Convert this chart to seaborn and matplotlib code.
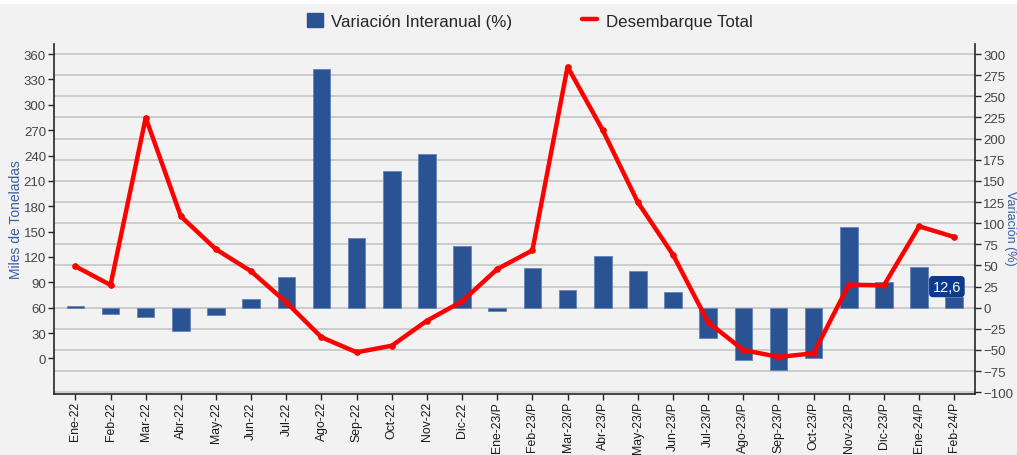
import numpy as np
import pandas as pd
import matplotlib
matplotlib.use("Agg")
import matplotlib.pyplot as plt
import seaborn as sns
from matplotlib.patches import Patch, Rectangle
from matplotlib.lines import Line2D

# --- data ---
meses = [
    "Ene-22", "Feb-22", "Mar-22", "Abr-22", "May-22", "Jun-22", "Jul-22",
    "Ago-22", "Sep-22", "Oct-22", "Nov-22", "Dic-22",
    "Ene-23/P", "Feb-23/P", "Mar-23/P", "Abr-23/P", "May-23/P", "Jun-23/P",
    "Jul-23/P", "Ago-23/P", "Sep-23/P", "Oct-23/P", "Nov-23/P", "Dic-23/P",
    "Ene-24/P", "Feb-24/P",
]
# Variación interanual (%), eje derecho
variacion = [2.0, -7.9, -10.6, -27.2, -8.6, 9.9, 35.9, 282.6, 82.8, 161.3,
             181.4, 72.6, -3.5, 46.6, 20.9, 60.8, 43.0, 18.6, -35.5, -62.2,
             -73.7, -59.1, 95.0, 30.4, 48.1, 12.6]
# Desembarque total (miles de toneladas), eje izquierdo
desembarque = [108.9, 86.8, 284.7, 168.0, 129.0, 103.0, 66.3, 25.0, 7.2, 15.0,
               44.6, 67.5, 105.7, 127.8, 345.0, 270.0, 184.6, 122.6, 42.7, 9.9,
               1.7, 6.0, 87.2, 86.4, 156.2, 143.6]

izq_ticks = list(range(0, 361, 30))
der_ticks = list(range(-100, 301, 25))

BG = "#F2F2F2"
AZUL = "#2A5394"
ROJO = "#FF0000"
AZUL_TXT = "#3A5BA0"

sns.set_theme(style="white", rc={"axes.facecolor": BG, "figure.facecolor": BG})
plt.rcParams["font.family"] = ["Liberation Sans", "DejaVu Sans"]

df = pd.DataFrame({"mes": meses, "variacion": variacion, "desembarque": desembarque})
df["pos"] = np.arange(len(df))

fig = plt.figure(figsize=(10.17, 4.56), dpi=100, facecolor=BG)
# thin white strip on top (cropped page above the chart)
fig.patches.append(Rectangle((0, 1 - 5 / 456), 1, 5 / 456, transform=fig.transFigure,
                             facecolor="white", edgecolor="none"))

ax = fig.add_axes([0.0534, 0.1338, 0.9053, 0.7675])
ax2 = ax.twinx()

# bars -> right axis
sns.barplot(data=df, x="mes", y="variacion", ax=ax2, color=AZUL, width=0.5,
            saturation=1, edgecolor="#6583b8", linewidth=0.6)
# line -> left axis
sns.lineplot(data=df, x="pos", y="desembarque", ax=ax, color=ROJO, lw=3.2,
             marker="o", markersize=4, markeredgecolor=ROJO,
             solid_joinstyle="round", solid_capstyle="round")

# line on top of the bars
ax.set_zorder(ax2.get_zorder() + 1)
ax.patch.set_visible(False)
ax2.patch.set_visible(True)
ax2.patch.set_facecolor(BG)

ax.set_xlim(-0.6, len(df) - 0.41)
ax.set_ylim(-42.1, 371.9)
ax2.set_ylim(-102.1, 311.9)

ax.set_yticks(izq_ticks)
ax2.set_yticks(der_ticks)
ax.set_xticks(df["pos"])
ax.set_xticklabels(meses, rotation=90)

ax2.yaxis.grid(True, color="#C8C8C8", lw=1.3)
ax2.set_axisbelow(True)
ax.grid(False)

for a in (ax, ax2):
    a.spines["top"].set_visible(False)
    for s in a.spines.values():
        s.set_color("#262626")
        s.set_linewidth(1.2)
ax.spines["right"].set_visible(False)
ax2.spines["left"].set_visible(False)
ax2.spines["bottom"].set_visible(False)

ax.tick_params(axis="y", left=True, length=4, width=1, color="#262626",
               labelsize=9.5, labelcolor="#444444", pad=2)
ax2.tick_params(axis="y", right=True, length=4, width=1, color="#262626",
                labelsize=9.5, labelcolor="#444444", pad=2)
ax.tick_params(axis="x", bottom=True, length=4, width=1, color="#262626",
               labelsize=8.8, labelcolor="#1a1a1a", pad=1.2)

ax.set_xlabel("")
ax.set_ylabel("Miles de Toneladas", color=AZUL_TXT, fontsize=10, labelpad=0.5)
ax2.set_xlabel("")
ax2.set_ylabel("")
# right axis title, squeezed against the right edge
fig.text(1009.5 / 1017, 0.5, "Variación (%)", color=AZUL_TXT, fontsize=9,
         rotation=270, ha="center", va="center")

# data label for the last bar
ult = df.iloc[-1]
ax2.annotate(f"{ult['variacion']:.1f}".replace(".", ","),
             xy=(ult["pos"], ult["variacion"]), xytext=(-5.3, 7.5),
             textcoords="offset points", ha="center", va="center",
             color="white", fontsize=10.5,
             bbox=dict(boxstyle="round,pad=0.2,rounding_size=0.2",
                       fc="#0C3B8E", ec="#0C3B8E"), zorder=5)

handles = [Patch(facecolor=AZUL, edgecolor=AZUL),
           Line2D([0], [0], color=ROJO, lw=3.2)]
fig.legend(handles, ["Variación Interanual (%)", "Desembarque Total"],
           loc="center", bbox_to_anchor=(0.521, 0.952), ncol=2, frameon=False,
           fontsize=12.2, handlelength=0.9, handleheight=0.9, handletextpad=0.5,
           columnspacing=4.1)

fig.savefig("out.png", dpi=100, facecolor=BG)
